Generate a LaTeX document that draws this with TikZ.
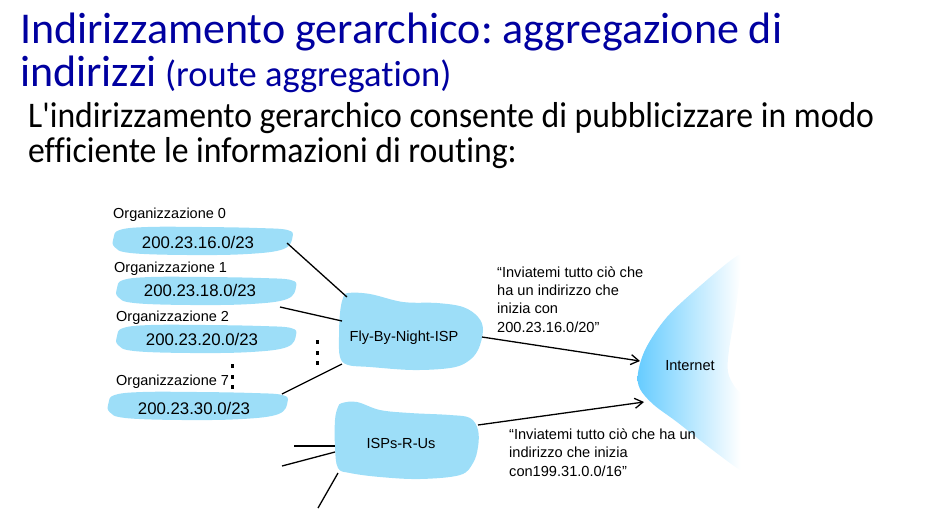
\documentclass[tikz,border=0pt]{standalone}
\usepackage{fontspec}
\setmainfont{Liberation Sans}
\newfontfamily\slidefont[Ligatures=NoCommon]{Carlito}
\usetikzlibrary{arrows.meta}
\frenchspacing
\definecolor{titleblue}{RGB}{0,0,160}
\definecolor{cloudblue}{RGB}{157,222,248}
\definecolor{netblue}{RGB}{102,204,255}
% blue on the left, fading to white before the right edge
\pgfdeclarehorizontalshading{netfade}{100bp}{color(0bp)=(netblue); color(25bp)=(netblue);
  color(70bp)=(white); color(100bp)=(white)}
\begin{document}
\begin{tikzpicture}[x=1pt,y=-1pt,
  titletext/.style={anchor=base west, inner sep=0pt, text=titleblue,
    font=\slidefont\fontsize{44}{44}\selectfont},
  bodytext/.style={anchor=base west, inner sep=0pt,
    font=\slidefont\fontsize{33.7}{33.7}\selectfont},
  orglabel/.style={anchor=west, inner sep=0pt, font=\fontsize{14.5}{17}\selectfont},
  iplabel/.style={inner sep=0pt, font=\fontsize{16.8}{20}\selectfont},
  isplabel/.style={inner sep=0pt, font=\fontsize{14.6}{17}\selectfont},
  quotetext/.style={anchor=base west, inner sep=0pt, align=left,
    font=\fontsize{14.6}{18.2}\selectfont},
  wire/.style={line width=1.3pt, black},
  advert/.style={wire, -{Straight Barb[length=8pt,width=10pt,line width=1.3pt]}},
  blobfill/.style={fill=cloudblue},
  dotmark/.style={fill=black}
]
\useasboundingbox (0,0) rectangle (938,515);

% heading and introduction
\node[titletext] (t1) at (20,43) {Indirizzamento gerarchico: aggregazione di};
\node[titletext] (t2) at (20,86) {indirizzi{\fontsize{36.5}{36.5}\selectfont\ (route aggregation)}};
\node[bodytext] (b1) at (28,127) {\scalebox{1}[1.07]{L'indirizzamento gerarchico consente di pubblicizzare in modo}};
\node[bodytext] (b2) at (28,162) {\scalebox{1}[1.07]{efficiente le informazioni di routing:}};

% brush-stroke blobs behind the organisation prefixes
\foreach \cx/\cy in {202.5/241, 206/291, 206/339, 197.5/406}{
  \fill[blobfill, shift={(\cx,\cy)}] plot[smooth cycle, tension=0.65] coordinates
    {(-89,-3) (-83,-11) (-55,-14) (0,-14) (55,-13) (85,-11) (90,-4) (81,8)
     (45,13) (-15,14) (-72,12) (-88,6)};
}

% organisation labels and prefixes
\node[orglabel] (o0) at (113,215) {Organizzazione 0};
\node[orglabel] (o1) at (114,269) {Organizzazione 1};
\node[orglabel] (o2) at (116,318) {Organizzazione 2};
\node[orglabel] (o7) at (116,382) {Organizzazione 7};
\node[iplabel] (p0) at (198,242) {200.23.16.0/23};
\node[iplabel] (p1) at (200,290) {200.23.18.0/23};
\node[iplabel] (p2) at (202,339) {200.23.20.0/23};
\node[iplabel] (p7) at (194,408) {200.23.30.0/23};

% vertical ellipses
\foreach \dy in {366,377,387} \fill[dotmark] (230.5,\dy-1.8) rectangle (233.5,\dy+1.8);
\foreach \dy in {342,353,363} \fill[dotmark] (315.5,\dy-1.8) rectangle (318.5,\dy+1.8);

% ISP clouds
\fill[blobfill] plot[smooth cycle, tension=0.6] coordinates
  {(348,293) (370,294) (403,302) (437,303) (463,307) (478,317) (483,330)
   (478,350) (467,362) (450,368) (413,370) (370,367) (348,365) (340,357)
   (339,337) (340,313) (343,298)};
\fill[blobfill] plot[smooth cycle, tension=0.6] coordinates
  {(342,403) (357,402) (380,410) (410,413) (450,415) (470,418) (478,430)
   (478,447) (473,463) (460,475) (420,479) (380,477) (350,473) (338,468)
   (335,447) (335,420) (338,407)};
\node[isplabel] (fbn) at (404,338) {Fly-By-Night-ISP};
\node[isplabel] (rus) at (401,443) {ISPs-R-Us};

% the Internet
\shade[shading=netfade] plot[smooth cycle, tension=0.55] coordinates
  {(737,256) (741,263) (736,307) (729,350) (728,372) (735,387) (748,403)
   (752,440) (748,471) (740,470) (710,448) (677,422) (654,405) (640,389)
   (638,373) (646,348) (667,317) (700,286)};
\node[isplabel] (net) at (690,366) {Internet};

% connector end points
\coordinate (p0e) at (287,243);
\coordinate (p1e) at (280,307);
\coordinate (p7e) at (282,394);
\coordinate (fbn0) at (347,297);
\coordinate (fbn1) at (342,321);
\coordinate (fbn7) at (342,364);
\coordinate (fbnr) at (482,337);
\coordinate (rusr) at (478,425);
\coordinate (rusa) at (335,446);
\coordinate (rusb) at (335,452);
\coordinate (rusc) at (338,473);
\coordinate (ea) at (294,446);
\coordinate (eb) at (282,466);
\coordinate (ec) at (318,508);
\coordinate (net1) at (640,361);
\coordinate (net2) at (644,402);

\draw[wire] (p0e) -- (fbn0);
\draw[wire] (p1e) -- (fbn1);
\draw[wire] (p7e) -- (fbn7);
\draw[wire] (ea) -- (rusa);
\draw[wire] (eb) -- (rusb);
\draw[wire] (ec) -- (rusc);
\draw[advert] (fbnr) -- (net1);
\draw[advert] (rusr) -- (net2);

% advertised routes
\node[quotetext] (q1) at (497,332) {“Inviatemi tutto ciò che\\ha un indirizzo che\\inizia con\\200.23.16.0/20”};
\node[quotetext] (q2) at (509,476) {“Inviatemi tutto ciò che ha un\\indirizzo che inizia\\con199.31.0.0/16”};
\end{tikzpicture}
\end{document}
